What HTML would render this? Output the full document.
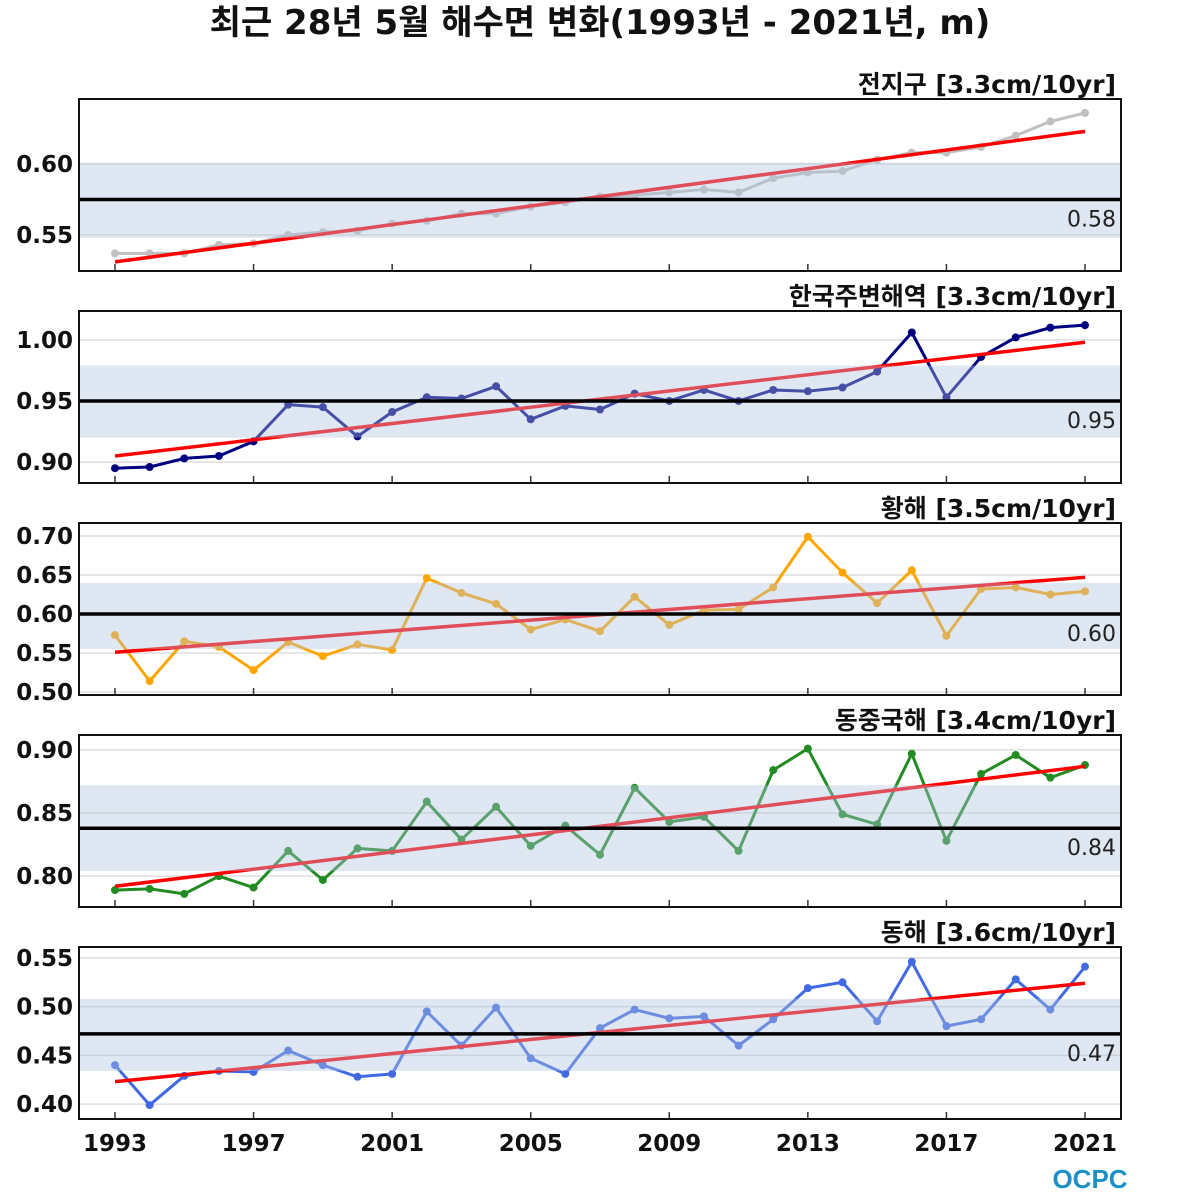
<!DOCTYPE html>
<html><head><meta charset="utf-8">
<style>
html,body{margin:0;padding:0;background:#fff;}
svg{display:block;font-family:"DejaVu Sans","Liberation Sans","Noto Sans CJK KR",sans-serif;}
</style></head>
<body>
<svg id="chart" width="1200" height="1200" viewBox="0 0 1200 1200" xmlns="http://www.w3.org/2000/svg">
<text x="600" y="34" text-anchor="middle" font-size="34" font-weight="bold" fill="#111">최근 28년 5월 해수면 변화(1993년 - 2021년, m)</text>
<g id="panels"></g>
<text x="1090" y="1188" text-anchor="middle" font-size="26" font-weight="bold" fill="#1a8fc8" font-family="Liberation Sans, sans-serif">OCPC</text>
</svg>
<script>
const years = [1993,1994,1995,1996,1997,1998,1999,2000,2001,2002,2003,2004,2005,2006,2007,2008,2009,2010,2011,2012,2013,2014,2015,2016,2017,2018,2019,2020,2021];
const xTickYears = [1993,1997,2001,2005,2009,2013,2017,2021];
const panelTitles = ["전지구 [3.3cm/10yr]","한국주변해역 [3.3cm/10yr]","황해 [3.5cm/10yr]","동중국해 [3.4cm/10yr]","동해 [3.6cm/10yr]"];
const globalValues = [0.537,0.537,0.537,0.543,0.544,0.550,0.552,0.553,0.558,0.560,0.565,0.565,0.570,0.573,0.577,0.578,0.580,0.582,0.580,0.590,0.594,0.595,0.603,0.608,0.608,0.612,0.620,0.630,0.636];
const koreaValues = [0.895,0.896,0.903,0.905,0.917,0.947,0.945,0.921,0.941,0.953,0.952,0.962,0.935,0.946,0.943,0.956,0.950,0.959,0.950,0.959,0.958,0.961,0.974,1.006,0.953,0.986,1.002,1.010,1.012];
const yellowValues = [0.573,0.514,0.565,0.558,0.528,0.564,0.546,0.561,0.554,0.646,0.627,0.613,0.580,0.593,0.578,0.622,0.586,0.605,0.606,0.634,0.699,0.653,0.614,0.656,0.572,0.632,0.634,0.625,0.629];
const ecsValues = [0.789,0.790,0.786,0.800,0.791,0.820,0.797,0.822,0.820,0.859,0.829,0.855,0.824,0.840,0.817,0.870,0.843,0.847,0.820,0.884,0.901,0.849,0.841,0.897,0.828,0.881,0.896,0.878,0.888];
const eastValues = [0.440,0.399,0.429,0.434,0.433,0.455,0.440,0.428,0.431,0.495,0.460,0.499,0.447,0.431,0.478,0.497,0.488,0.490,0.460,0.487,0.519,0.525,0.485,0.546,0.480,0.487,0.528,0.497,0.541];
const trendStart = [0.531,0.905,0.551,0.792,0.423];
const trendEnd = [0.623,0.998,0.647,0.887,0.524];
const meanValues = [0.575,0.950,0.600,0.838,0.472];
const meanLabels = ["0.58","0.95","0.60","0.84","0.47"];
const bandLow = [0.548,0.920,0.555,0.804,0.434];
const bandHigh = [0.601,0.979,0.640,0.872,0.508];
const yTicks0 = [0.55,0.60];
const yTicks1 = [0.90,0.95,1.00];
const yTicks2 = [0.50,0.55,0.60,0.65,0.70];
const yTicks3 = [0.80,0.85,0.90];
const yTicks4 = [0.40,0.45,0.50,0.55];

const allValues=[globalValues,koreaValues,yellowValues,ecsValues,eastValues];
const allTicks=[yTicks0,yTicks1,yTicks2,yTicks3,yTicks4];
const colors=["#c0c0c0","#000080","#ffa500","#228b22","#4169e1"];
const domLo=[0.5246,0.8829,0.4962,0.7756,0.3847];
const domHi=[0.6458,1.0236,0.7166,0.9118,0.5612];
const L=79,R=1121,H=172,tops=[99,311,523,735,947];
const NS="http://www.w3.org/2000/svg";
const root=document.getElementById('panels');
function mk(tag,attrs,parent){const e=document.createElementNS(NS,tag);for(const k in attrs)e.setAttribute(k,attrs[k]);(parent||root).appendChild(e);return e;}
const xS=y=>115+(y-1993)*(1085-115)/(2021-1993);

for(let p=0;p<5;p++){
  const top=tops[p],bot=top+H;
  const yS=v=>bot-(v-domLo[p])/(domHi[p]-domLo[p])*H;
  const g=mk('g',{});
  
  
  const t=mk('text',{x:1116,y:top-6,'text-anchor':'end','font-size':25,'font-weight':'bold',fill:'#111'},g);
  t.textContent=panelTitles[p];
  
  
  allTicks[p].forEach(v=>{
    const gl=mk('line',{x1:L,x2:R,y1:yS(v),y2:yS(v),stroke:'#ddd','stroke-width':1.5},g);
    
    
    const tl=mk('text',{x:73,y:yS(v)+8,'text-anchor':'end','font-size':23,'font-weight':'bold',fill:'#111'},g);
    tl.textContent=v.toFixed(2);
    
    
  });
  xTickYears.forEach(yr=>{
    const tk=mk('line',{x1:xS(yr),x2:xS(yr),y1:bot,y2:bot-7,stroke:'#333','stroke-width':1.5},g);
    
    
  });
  const vals=allValues[p];
  const pts=years.map((y,i)=>xS(y)+','+yS(vals[i])).join(' ');
  const pl=mk('polyline',{points:pts,fill:'none',stroke:colors[p],'stroke-width':3,'stroke-linejoin':'round'},g);
  
  
  years.forEach((y,i)=>{
    const c=mk('circle',{cx:xS(y),cy:yS(vals[i]),r:4,fill:colors[p]},g);
    
    
  });
  const tr=mk('line',{x1:xS(years[0]),x2:xS(years[years.length-1]),y1:yS(trendStart[p]),y2:yS(trendEnd[p]),stroke:'#f00','stroke-width':3.5},g);
  
  
  const bd=mk('rect',{x:L,y:yS(bandHigh[p]),width:R-L,height:yS(bandLow[p])-yS(bandHigh[p]),fill:'rgb(176,196,222)','fill-opacity':0.4},g);
  
  
  const ml=mk('line',{x1:L,x2:R,y1:yS(meanValues[p]),y2:yS(meanValues[p]),stroke:'#000','stroke-width':3.5},g);
  
  
  const mt=mk('text',{x:1116,y:yS(meanValues[p])+27,'text-anchor':'end','font-size':22,fill:'#222'},g);
  mt.textContent=meanLabels[p];
  
  
  const fr=mk('rect',{x:L,y:top,width:R-L,height:H,fill:'none',stroke:'#111','stroke-width':2},g);
  
  
}
xTickYears.forEach(yr=>{
  const xl=mk('text',{x:xS(yr),y:1151,'text-anchor':'middle','font-size':23,'font-weight':'bold',fill:'#111'});
  xl.textContent=yr;
  
  
});
</script>
</body></html>
